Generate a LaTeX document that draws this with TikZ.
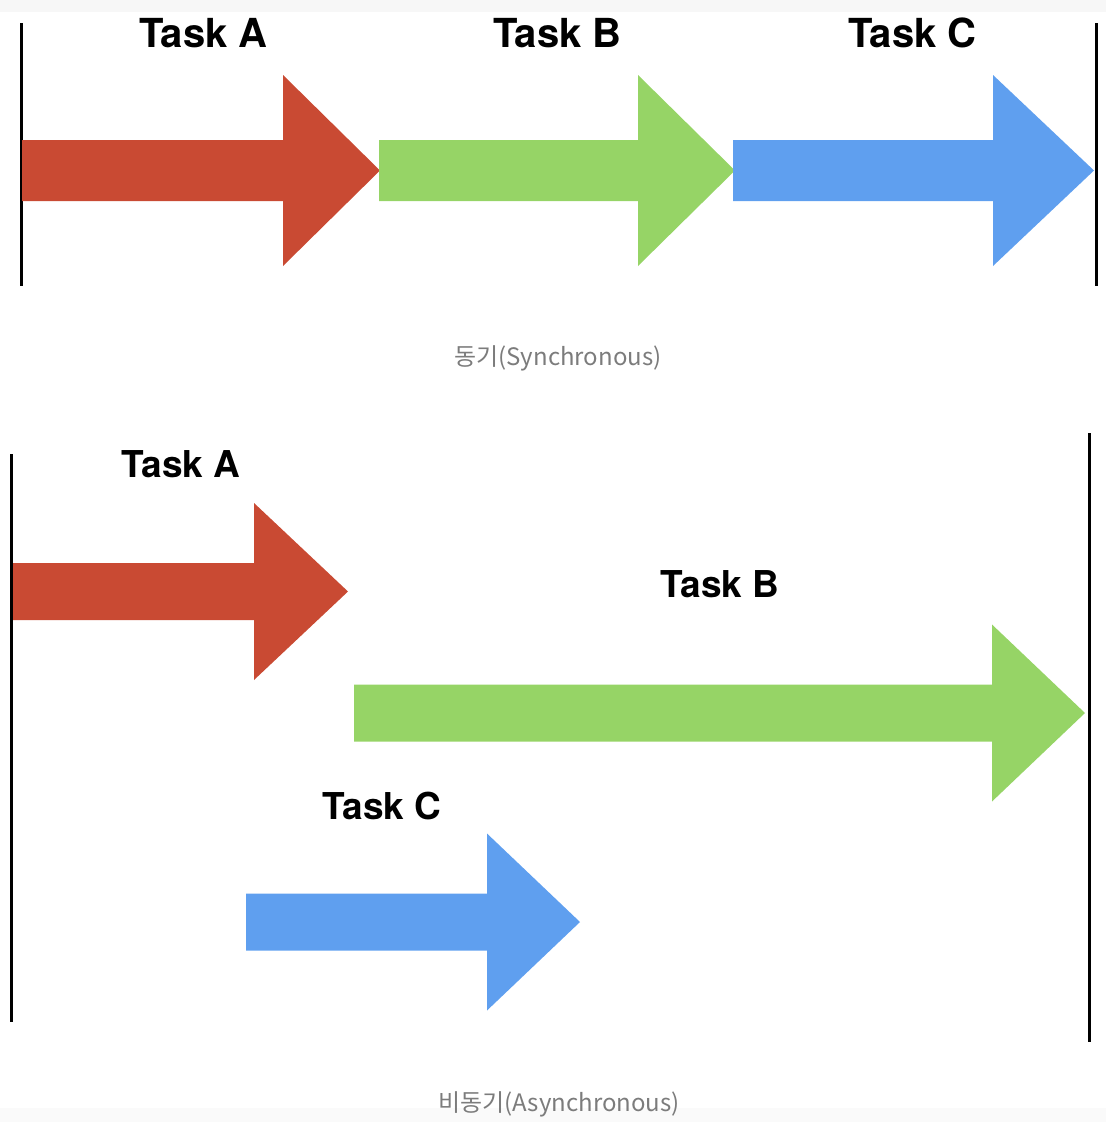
\documentclass[tikz,border=0pt]{standalone}
\usepackage{fontspec}
\newfontfamily\tasklabelfont{TeX Gyre Heros}
\newfontfamily\captionfont{Noto Sans CJK KR}
\definecolor{taskred}{HTML}{C94A33}
\definecolor{taskgreen}{HTML}{96D466}
\definecolor{taskblue}{HTML}{5F9FEF}
\definecolor{captiongray}{HTML}{7C7C7C}

% block arrow: #1 colour, #2 tail x, #3 head base x, #4 tip x,
% #5 centre y, #6 shaft half height, #7 head half height
\newcommand{\blockarrow}[7]{%
  \fill[#1] (#2,#5-#6) -- (#3,#5-#6) -- (#3,#5-#7) -- (#4,#5)
    -- (#3,#5+#7) -- (#3,#5+#6) -- (#2,#5+#6) -- cycle;}

\begin{document}
\begin{tikzpicture}[x=1pt,y=-1pt,
  tasklabel/.style={anchor=base,inner sep=0pt,
    font=\tasklabelfont\bfseries\fontsize{40}{48}\selectfont},
  tasklabelsmall/.style={tasklabel,
    font=\tasklabelfont\bfseries\fontsize{37}{44}\selectfont},
  caption/.style={anchor=base,inner sep=0pt,text=captiongray,
    font=\captionfont\fontsize{24}{28}\selectfont},
  limit/.style={line width=3pt,black}]
\useasboundingbox (0,0) rectangle (1106,1122);
\fill[black!3] (0,0) rectangle (1106,12);
\fill[black!2] (0,1108) rectangle (1106,1122);

% ---------- synchronous ----------
\coordinate (s0top) at (21,23);   \coordinate (s0bot) at (21,286);
\coordinate (s1top) at (1096,23); \coordinate (s1bot) at (1096,286);
\draw[limit] (s0top) -- (s0bot);
\draw[limit] (s1top) -- (s1bot);

\blockarrow{taskred}{22}{283}{380}{170.5}{30.5}{95.5}
\blockarrow{taskgreen}{379}{638}{735}{170.5}{30.5}{95.5}
\blockarrow{taskblue}{733}{993}{1094}{170.5}{30.5}{95.5}

\node[tasklabel] (sA) at (203.5,47) {Task A};
\node[tasklabel] (sB) at (557.5,47) {Task B};
\node[tasklabel] (sC) at (912.5,47) {Task C};
\node[caption] (scap) at (558,365) {동기(Synchronous)};

% ---------- asynchronous ----------
\coordinate (a0top) at (11.5,454);  \coordinate (a0bot) at (11.5,1022);
\coordinate (a1top) at (1089,433);  \coordinate (a1bot) at (1089,1042);
\draw[limit] (a0top) -- (a0bot);
\draw[limit] (a1top) -- (a1bot);

\blockarrow{taskred}{13}{254}{348}{591.5}{28.5}{88.5}
\blockarrow{taskgreen}{354}{992}{1085}{713}{28.5}{88.5}
\blockarrow{taskblue}{246}{487}{580}{922}{28.5}{88.5}

\node[tasklabelsmall] (aA) at (181,477) {Task A};
\node[tasklabelsmall] (aB) at (720,597) {Task B};
\node[tasklabelsmall] (aC) at (382,819) {Task C};
\node[caption] (acap) at (559,1111) {비동기(Asynchronous)};
\end{tikzpicture}
\end{document}
